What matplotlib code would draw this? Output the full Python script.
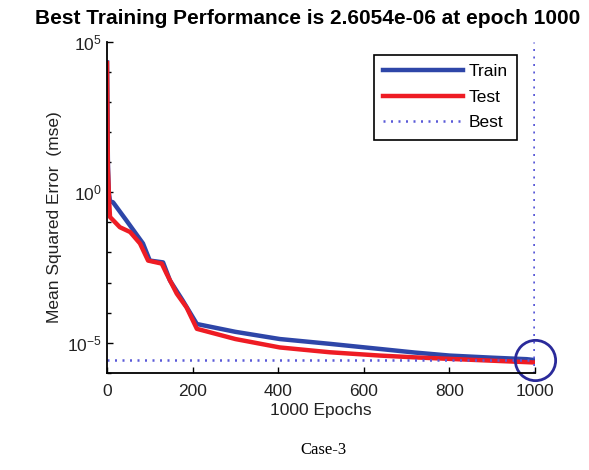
"""Training performance plot (log-scale MSE vs epochs)."""

import matplotlib
matplotlib.use("Agg")
import matplotlib.pyplot as plt

# Data (log10 of mse)
train_epochs = [0, 2, 4, 7, 14, 45, 84, 100, 131, 147, 177, 210,
                300, 404, 521, 638, 720, 801, 900, 981, 1000]
train_log_mse = [4.32, 1.0, 0.0, -0.3, -0.33, -0.93, -1.70, -2.27, -2.33,
                 -2.93, -3.60, -4.38, -4.64, -4.88, -5.04, -5.21, -5.33,
                 -5.43, -5.50, -5.55, -5.58]
test_epochs = [0, 2, 5, 7, 30, 54, 77, 96, 128, 139, 163, 186, 210,
               300, 404, 521, 638, 720, 801, 900, 1000]
test_log_mse = [4.3, 0.8, -0.3, -0.82, -1.16, -1.32, -1.70, -2.27, -2.37,
                -2.70, -3.37, -3.83, -4.54, -4.88, -5.16, -5.32, -5.43,
                -5.49, -5.54, -5.60, -5.66]
best_epoch = 1000
best_perf = 2.6054e-06
x_ticks = [0, 200, 400, 600, 800, 1000]
y_major = [1e-5, 1e0, 1e5]
y_labels = [r"$\mathregular{10^{-5}}$", r"$\mathregular{10^{0}}$",
            r"$\mathregular{10^{5}}$"]

plt.rcParams["font.family"] = "Liberation Sans"


def plot_performance() -> None:
    """Draw the performance curves and save to out.png."""
    fig = plt.figure(figsize=(5.89, 4.70), dpi=100)
    ax = fig.add_axes([0.1817, 0.207, 0.7263, 0.7036])

    train = [10.0 ** v for v in train_log_mse]
    test = [10.0 ** v for v in test_log_mse]

    ax.plot(train_epochs, train, color="#2e46a8", lw=3.2, label="Train",
            solid_joinstyle="round")
    ax.plot(test_epochs, test, color="#ee1c24", lw=3.2, label="Test",
            solid_joinstyle="round")
    ax.axhline(best_perf, color="#5a5ad8", lw=1.8, ls=(0, (0.8, 2.2)),
               label="Best")
    ax.axvline(best_epoch - 1, color="#5a5ad8", lw=1.8, ls=(0, (0.8, 2.2)))
    ax.plot([best_epoch], [best_perf], "o", ms=29, mfc="none",
            mec="#2a2a9a", mew=2, clip_on=False)

    ax.set_yscale("log")
    ax.set_xlim(0, 1000)
    ax.set_ylim(1e-6, 1e5)
    ax.set_xticks(x_ticks)
    ax.set_xticklabels([str(t) for t in x_ticks], fontsize=12.5)
    ax.set_yticks(y_major)
    ax.set_yticklabels(y_labels, fontsize=12.5)
    ax.set_yticks([10.0 ** k for k in range(-6, 6)], minor=True)
    ax.yaxis.set_minor_formatter(plt.NullFormatter())
    ax.tick_params(direction="in", length=4, width=1, colors="black",
                   labelcolor="#222222")
    ax.tick_params(which="minor", direction="in", length=3, width=1)
    ax.tick_params(axis="x", pad=8)

    for side in ("top", "right"):
        ax.spines[side].set_visible(False)
    for side in ("left", "bottom"):
        ax.spines[side].set_linewidth(1.3)

    leg = ax.legend(loc="upper right", bbox_to_anchor=(0.958, 0.962),
                    fontsize=12.5, handlelength=4.6, handletextpad=0.3,
                    borderpad=0.55, labelspacing=0.6, borderaxespad=0,
                    fancybox=False, framealpha=1)
    leg.get_frame().set_edgecolor("black")
    leg.get_frame().set_linewidth(1.2)

    fig.text(308 / 589, 1 - 18 / 470,
             "Best Training Performance is 2.6054e-06 at epoch 1000",
             ha="center", va="center", fontsize=15, fontweight="bold")
    fig.text(55 / 589, 1 - 217 / 470, "Mean Squared Error  (mse)",
             rotation=90, ha="center", va="center", fontsize=12.5,
             color="#222222")
    fig.text(321 / 589, 1 - 411 / 470, "1000 Epochs", ha="center",
             va="center", fontsize=12.5, color="#222222")
    fig.text(323 / 589, 1 - 450 / 470, "Case-3", ha="center", va="center",
             fontsize=12, family="Liberation Serif")

    fig.savefig("out.png", dpi=100)


def main() -> None:
    """Build the chart."""
    plot_performance()


if __name__ == "__main__":
    main()
